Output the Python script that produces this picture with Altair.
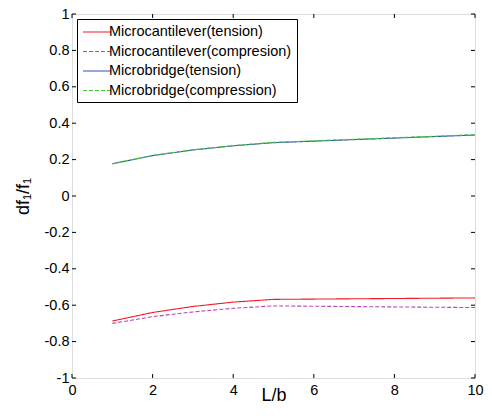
import altair as alt
import pandas as pd

x_vals = [1, 2, 3, 4, 5, 10]
cant_tension = [-0.687, -0.64, -0.607, -0.583, -0.568, -0.56]
cant_compression = [-0.70, -0.663, -0.637, -0.617, -0.604, -0.613]
bridge_tension = [0.177, 0.222, 0.253, 0.276, 0.293, 0.335]
bridge_compression = [0.177, 0.223, 0.254, 0.277, 0.295, 0.337]

series_names = ["Microcantilever(tension)", "Microcantilever(compresion)",
                "Microbridge(tension)", "Microbridge(compression)"]
series_colors = ["#ee1c25", "#bb44bb", "#3050b0", "#44cc33"]
series_dash = [[1, 0], [4, 2], [1, 0], [4, 2]]

x_ticks = [0, 2, 4, 6, 8, 10]
y_ticks = [-1, -0.8, -0.6, -0.4, -0.2, 0, 0.2, 0.4, 0.6, 0.8, 1]

rows = []
for name, ys in zip(series_names, [cant_tension, cant_compression, bridge_tension, bridge_compression]):
    for xv, yv in zip(x_vals, ys):
        rows.append({"L/b": xv, "val": yv, "series": name})
df = pd.DataFrame(rows)

W, H = 403, 364
FONT = "Liberation Sans"
TL = 4

xs = alt.Scale(domain=[0, 10], nice=False)
ys = alt.Scale(domain=[-1, 1], nice=False)

x_axis = alt.Axis(values=x_ticks, title="L/b", grid=False, ticks=False,
                  domain=False, labelFont=FONT, labelFontSize=14.5, labelColor="black", labelPadding=5,
                  labelOverlap=False, labelFlush=False,
                  titleFont=FONT, titleFontSize=18, titleFontWeight="normal", titleColor="black",
                  titlePadding=-10)
y_axis = alt.Axis(values=y_ticks, title="df₁/f₁", grid=False, ticks=False,
                  domain=False, labelFont=FONT, labelFontSize=14.5, labelColor="black", labelPadding=3,
                  labelOverlap=False, labelFlush=False,
                  labelExpr="datum.value < 0 ? '-' + format(-datum.value, '.1~f') : format(datum.value, '.1~f')",
                  titleFont=FONT, titleFontSize=18, titleFontWeight="normal", titleColor="black",
                  titlePadding=12)

lines = alt.Chart(df).mark_line(strokeWidth=1.1).encode(
    x=alt.X("L/b:Q", scale=xs, axis=x_axis),
    y=alt.Y("val:Q", scale=ys, axis=y_axis),
    color=alt.Color("series:N", scale=alt.Scale(domain=series_names, range=series_colors),
                    sort=series_names,
                    legend=alt.Legend(title=None, orient="top-left", offset=5, strokeColor="black",
                                      fillColor="white", padding=5, symbolType="M-2,0H2",
                                      symbolStrokeWidth=1.2, symbolSize=196, symbolOffset=7,
                                      labelFont=FONT,
                                      labelFontSize=14.5, labelColor="black", rowPadding=4.5,
                                      labelOffset=4, labelLimit=300)),
    strokeDash=alt.StrokeDash("series:N", scale=alt.Scale(domain=series_names, range=series_dash),
                              sort=series_names, legend=None),
    order=alt.Order("L/b:Q"),
)

xt = pd.DataFrame({"L/b": x_ticks})
yt = pd.DataFrame({"val": y_ticks})

xb = alt.Chart(xt).mark_rule(color="black", strokeWidth=1).encode(
    x=alt.X("L/b:Q", scale=xs, axis=x_axis), y=alt.value(H), y2=alt.value(H - TL))
xtop = alt.Chart(xt).mark_rule(color="black", strokeWidth=1).encode(
    x=alt.X("L/b:Q", scale=xs, axis=x_axis), y=alt.value(0), y2=alt.value(TL))
yl = alt.Chart(yt).mark_rule(color="black", strokeWidth=1).encode(
    y=alt.Y("val:Q", scale=ys, axis=y_axis), x=alt.value(0), x2=alt.value(TL))
yr = alt.Chart(yt).mark_rule(color="black", strokeWidth=1).encode(
    y=alt.Y("val:Q", scale=ys, axis=y_axis), x=alt.value(W), x2=alt.value(W - TL))

chart = alt.layer(lines, xb, xtop, yl, yr).properties(
    width=W, height=H,
    autosize=alt.AutoSizeParams(type="none"),
    padding={"left": 64, "top": 6, "right": 9, "bottom": 30},
).configure_view(stroke="black", strokeWidth=1.5).configure(background="white")

chart.save("out.html", embed_options={"renderer": "svg", "actions": False})
